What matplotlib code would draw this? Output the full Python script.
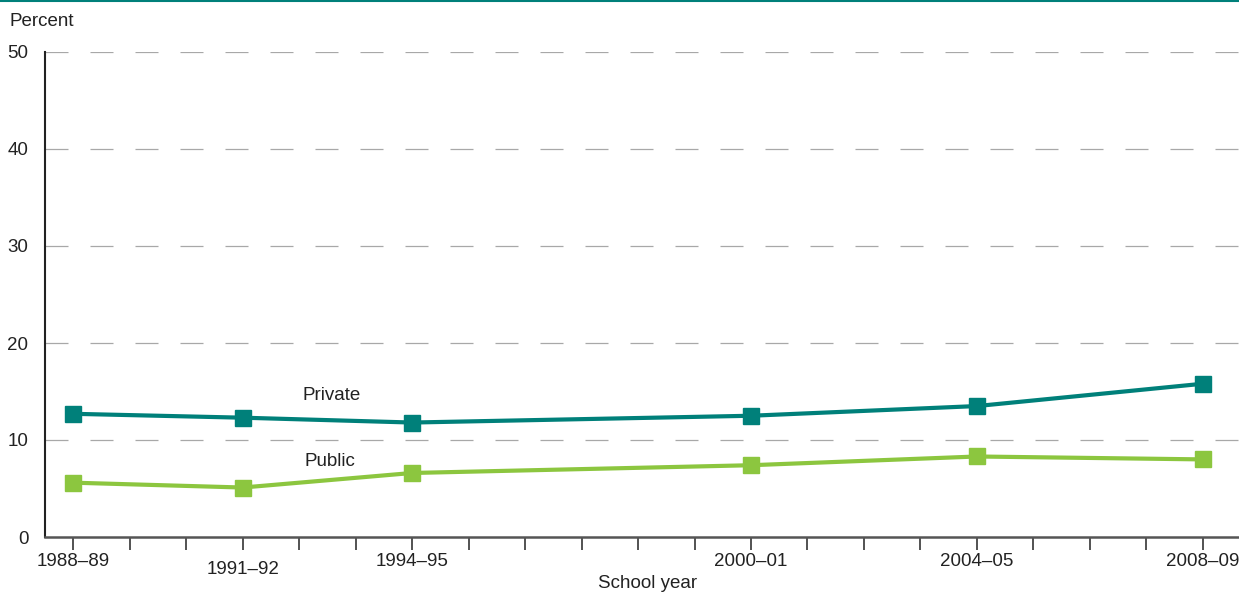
import matplotlib
matplotlib.use("Agg")
import matplotlib.pyplot as plt
from matplotlib.lines import Line2D

years = [1988, 1991, 1994, 2000, 2004, 2008]
year_labels = ["1988–89", "1991–92", "1994–95", "2000–01", "2004–05", "2008–09"]
private = [12.7, 12.3, 11.8, 12.5, 13.5, 15.8]
public = [5.6, 5.1, 6.6, 7.4, 8.3, 8.0]
yticks = [0, 10, 20, 30, 40, 50]

teal = "#00807a"
green = "#8cc63f"
txt = "#222222"
fs = 13.5

plt.rcParams['font.family'] = ['Liberation Sans', 'DejaVu Sans']

fig = plt.figure(figsize=(12.39, 5.92), dpi=100)
ax = fig.add_axes([45/1239, 1-537/592, 1-45/1239, (537-52)/592])

ax.set_xlim(1987.5, 2008.64)
ax.set_ylim(0, 50)

for y in yticks[1:]:
    ax.axhline(y, color="#a8a8a8", lw=0.9, linestyle=(0, (18.4, 17.6)), zorder=1)

ax.plot(years, private, color=teal, lw=3, marker="s", ms=11.5, zorder=3)
ax.plot(years, public, color=green, lw=3, marker="s", ms=11.5, zorder=3)

ax.text(1992.58, 14.6, "Private", fontsize=fs, color=txt, ha="center", va="center")
ax.text(1992.55, 7.75, "Public", fontsize=fs, color=txt, ha="center", va="center")

for s in ["top", "right"]:
    ax.spines[s].set_visible(False)
ax.spines["left"].set_color(txt)
ax.spines["left"].set_linewidth(1.5)
ax.spines["bottom"].set_color("#555555")
ax.spines["bottom"].set_linewidth(1.8)

ax.set_yticks(yticks)
ax.set_yticklabels([str(v) for v in yticks], fontsize=fs, color=txt)
ax.tick_params(axis="y", length=0, pad=12)

ax.set_xticks(list(range(1988, 2009)))
ax.set_xticklabels([])
ax.tick_params(axis="x", direction="out", length=9, width=1.3, color="#444444")

for yr, lab in zip(years, year_labels):
    yoff = -25/485 if yr != 1991 else -33/485
    ax.text(yr, yoff, lab, transform=ax.get_xaxis_transform(), fontsize=fs,
            color=txt, ha="center", va="center")

fig.text(648/1239, 1-584/592, "School year", fontsize=fs, color=txt, ha="center", va="center")
fig.text(10/1239, 1-22/592, "Percent", fontsize=fs, color=txt, ha="left", va="center")

fig.add_artist(Line2D([0, 1], [1-1/592, 1-1/592], color=teal, lw=1.5, transform=fig.transFigure))

fig.savefig("out.png", dpi=100)
